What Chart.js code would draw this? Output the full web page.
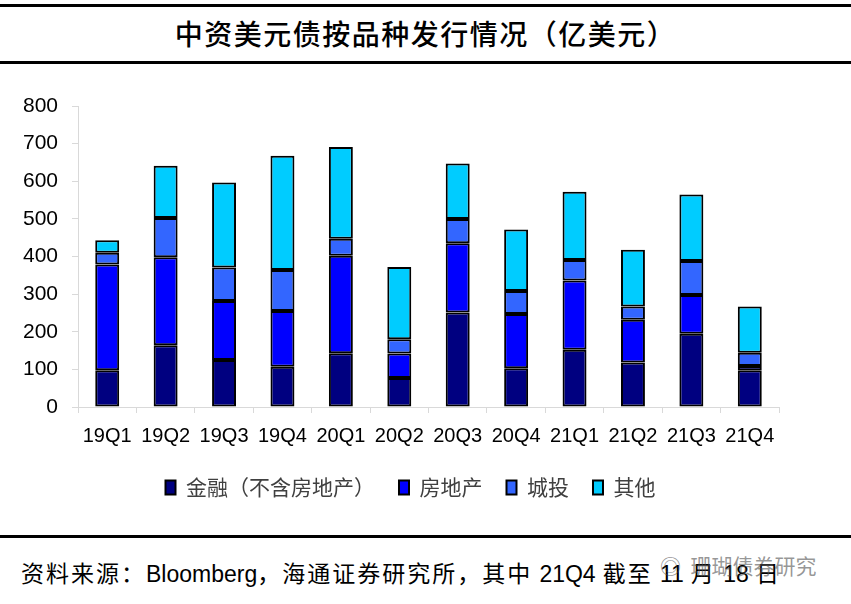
<!DOCTYPE html>
<html>
<head>
<meta charset="utf-8">
<script src="https://cdn.jsdelivr.net/npm/chart.js@4"></script>
<style>
  body { margin: 0; background: #fff; width: 851px; height: 604px; position: relative; overflow: hidden; }
  .rule { position: absolute; left: 0; width: 851px; height: 3px; background: #000; }
  #title { position: absolute; top: 13px; left: 0; width: 851px; text-align: center;
    font-family: "Noto Sans CJK SC"; font-size: 28px; font-weight: 500; letter-spacing: 1.5px; color: #000; }
  #chartBox { position: absolute; left: 0; top: 70px; width: 851px; height: 440px; }
  #source { position: absolute; top: 555px; left: 21px; font-family: "Liberation Sans"; font-size: 23px; color: #000; white-space: nowrap; }
  #source .cn { font-family: "Noto Sans CJK SC"; font-size: 23px; letter-spacing: 2px; }
  #mark { position: absolute; top: 550px; left: 660px; font-family: "Noto Sans CJK SC"; font-size: 21px; color: rgba(80,80,80,0.6); white-space: nowrap; }
</style>
</head>
<body>
<div class="rule" style="top:4px"></div>
<div id="title">中资美元债按品种发行情况（亿美元）</div>
<div class="rule" style="top:61px"></div>
<div id="chartBox"><canvas id="myChart"></canvas></div>
<div class="rule" style="top:535px"></div>
<div id="source"><span class="cn">资料来源：</span>Bloomberg<span class="cn">，海通证券研究所，其中 </span>21Q4<span class="cn"> 截至 </span>11<span class="cn"> 月 </span>18<span class="cn"> 日</span></div>
<div id="mark">◎&nbsp; 珊瑚债券研究</div>
<script>
const quarters = ['19Q1', '19Q2', '19Q3', '19Q4', '20Q1', '20Q2', '20Q3', '20Q4', '21Q1', '21Q2', '21Q3', '21Q4'];
const finance = [98, 164, 125, 107, 143, 77, 251, 103, 152, 118, 195, 98];
const realEstate = [281, 234, 157, 148, 259, 65, 184, 144, 184, 114, 103, 11];
const lgfv = [31, 104, 89, 109, 45, 38, 65, 61, 55, 35, 90, 35];
const others = [33, 139, 226, 304, 244, 192, 147, 164, 181, 151, 177, 123];
const yTicks = [0, 100, 200, 300, 400, 500, 600, 700, 800];

const ctx = document.getElementById('myChart');

function ds(label, data, color) {
  return {
    label: label,
    data: data,
    backgroundColor: color,
    borderColor: '#000',
    borderWidth: 2,
    borderSkipped: false,
    barPercentage: 1,
    categoryPercentage: 0.41
  };
}

// legend in the original sits a bit right of the canvas centre
const legendShift = {
  id: 'legendShift',
  afterLayout(chart) {
    chart.legend.left += 21;
    chart.legend.right += 21;
  }
};

new Chart(ctx, {
  type: 'bar',
  data: {
    labels: quarters,
    datasets: [
      ds('金融（不含房地产）', finance, '#000080'),
      ds('房地产', realEstate, '#0000ff'),
      ds('城投', lgfv, '#3366ff'),
      ds('其他', others, '#00ccff')
    ]
  },
  plugins: [legendShift],
  options: {
    responsive: true,
    maintainAspectRatio: false,
    animation: false,
    layout: { padding: { top: 36, right: 72, left: 0, bottom: 2 } },
    plugins: {
      tooltip: { enabled: false },
      legend: {
        position: 'bottom',
        labels: {
          boxWidth: 10,
          boxHeight: 14,
          padding: 24,
          color: '#404040',
          font: { family: '"Noto Sans CJK SC"', size: 21 }
        }
      }
    },
    scales: {
      x: {
        stacked: true,
        afterFit: s => { s.height = 46; },
        grid: { drawOnChartArea: false, tickLength: 6, color: '#d9d9d9' },
        border: { color: '#d9d9d9', width: 1 },
        ticks: { color: '#000', padding: 11, font: { family: '"Liberation Sans"', size: 20 } }
      },
      y: {
        stacked: true,
        min: 0,
        max: 800,
        afterFit: s => { s.width = 78; },
        afterBuildTicks: s => { s.ticks = yTicks.map(v => ({ value: v })); },
        grid: { drawOnChartArea: false, tickLength: 6, color: '#d9d9d9' },
        border: { color: '#d9d9d9', width: 1 },
        ticks: { color: '#000', padding: 14, font: { family: '"Liberation Sans"', size: 21 } }
      }
    }
  }
});
</script>
</body>
</html>
